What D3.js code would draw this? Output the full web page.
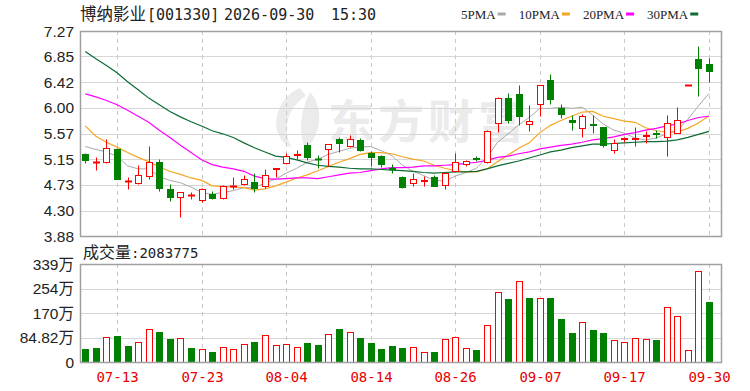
<!DOCTYPE html>
<html>
<head>
<meta charset="utf-8">
<script src="https://cdn.jsdelivr.net/npm/d3@7"></script>
<style>
  body { margin: 0; background: #fff; }
  svg { display: block; }
</style>
</head>
<body>
<svg id="chart" width="750" height="391"></svg>
<script>
// trading days shown (2026)
const dates = ["07-08","07-09","07-10","07-13","07-14","07-15","07-16","07-17","07-20","07-21",
  "07-22","07-23","07-24","07-27","07-28","07-29","07-30","07-31","08-03","08-04",
  "08-05","08-06","08-07","08-10","08-11","08-12","08-13","08-14","08-17","08-18",
  "08-19","08-20","08-21","08-24","08-25","08-26","08-27","08-28","08-31","09-01",
  "09-02","09-03","09-04","09-07","09-08","09-09","09-10","09-11","09-14","09-15",
  "09-16","09-17","09-18","09-21","09-22","09-23","09-24","09-28","09-29","09-30"];

const opens  = [5.24,5.10,5.11,5.32,4.79,4.75,4.87,5.10,4.66,4.53, 4.55,4.48,4.57,4.51,4.70,4.74,4.78,4.70,4.99,5.08,
  5.22,5.38,5.16,5.32,5.48,5.37,5.47,5.25,5.21,5.01, 4.86,4.76,4.79,4.86,4.72,4.96,5.07,5.17,5.11,5.75,
  6.17,6.23,5.73,6.06,6.46,6.00,5.79,5.66,5.74,5.68, 5.30,5.49,5.49,5.54,5.58,5.52,5.58,6.38,6.80,6.72];
const highs  = [5.25,5.18,5.49,5.33,4.86,5.05,5.37,5.15,4.74,4.60, 4.61,4.67,4.63,4.72,4.86,4.89,4.92,4.98,5.00,5.26,
  5.30,5.43,5.22,5.40,5.52,5.55,5.50,5.29,5.22,5.07, 4.87,4.92,4.87,4.89,4.94,5.26,5.13,5.21,5.63,6.18,
  6.24,6.37,6.05,6.37,6.56,6.06,5.88,5.90,5.88,5.69, 5.48,5.52,5.69,5.62,5.63,5.88,6.02,6.38,7.02,6.82];
const lows   = [5.09,4.97,5.09,4.83,4.65,4.74,4.83,4.62,4.46,4.20, 4.49,4.45,4.50,4.50,4.66,4.73,4.60,4.68,4.86,5.07,
  5.16,5.13,5.00,5.03,5.27,5.35,5.29,5.04,5.02,4.93, 4.67,4.70,4.70,4.70,4.65,4.94,5.03,5.12,5.09,5.60,
  5.75,5.72,5.62,5.86,6.06,5.83,5.63,5.51,5.59,5.35, 5.26,5.44,5.37,5.41,5.50,5.21,5.58,6.38,6.20,6.43];
const closes = [5.13,5.10,5.34,4.83,4.79,4.89,5.10,4.67,4.52,4.60, 4.55,4.65,4.51,4.71,4.71,4.82,4.67,4.89,5.00,5.20,
  5.23,5.18,5.15,5.40,5.42,5.48,5.30,5.19,5.07,4.99, 4.69,4.82,4.81,4.71,4.92,5.10,5.12,5.16,5.62,6.17,
  5.79,5.86,5.78,6.37,6.14,5.90,5.77,5.86,5.72,5.39, 5.41,5.50,5.50,5.55,5.56,5.75,5.80,6.38,6.65,6.61];

const ma5  = [5.36,5.31,5.27,5.20,5.04,4.99,4.99,4.86,4.80,4.76, 4.69,4.60,4.57,4.60,4.63,4.68,4.68,4.76,4.82,4.92,
  5.00,5.10,5.15,5.23,5.28,5.33,5.35,5.36,5.29,5.21, 5.05,4.95,4.88,4.80,4.79,4.87,4.93,5.00,5.18,5.43,
  5.57,5.72,5.84,5.99,5.99,6.01,5.99,6.01,5.88,5.73, 5.63,5.58,5.50,5.47,5.50,5.57,5.63,5.81,6.03,6.24];
const ma10 = [5.70,5.53,5.43,5.35,5.26,5.18,5.11,5.02,4.95,4.90, 4.84,4.80,4.71,4.70,4.69,4.68,4.64,4.66,4.71,4.77,
  4.84,4.89,4.96,5.03,5.10,5.16,5.23,5.26,5.26,5.24, 5.19,5.15,5.12,5.05,5.00,4.96,4.94,4.94,4.99,5.11,
  5.22,5.33,5.42,5.59,5.71,5.79,5.86,5.93,5.94,5.86, 5.82,5.78,5.76,5.67,5.62,5.60,5.60,5.66,5.75,5.87];
const ma20 = [6.23,6.18,6.12,6.05,5.96,5.86,5.76,5.63,5.51,5.38, 5.26,5.14,5.06,5.02,4.99,4.95,4.87,4.83,4.82,4.83,
  4.84,4.84,4.83,4.86,4.89,4.92,4.93,4.96,4.99,5.01, 5.01,5.02,5.04,5.04,5.05,5.06,5.08,5.10,5.13,5.18,
  5.20,5.24,5.27,5.32,5.35,5.38,5.40,5.43,5.47,5.49, 5.52,5.56,5.59,5.63,5.66,5.70,5.73,5.79,5.84,5.86];
const ma30 = [6.93,6.81,6.70,6.58,6.43,6.30,6.16,6.05,5.94,5.85, 5.77,5.70,5.62,5.57,5.51,5.42,5.34,5.27,5.20,5.18,
  5.14,5.09,5.05,5.03,5.02,5.00,4.99,4.99,4.98,4.97, 4.96,4.95,4.93,4.92,4.93,4.94,4.94,4.95,4.99,5.04,
  5.08,5.12,5.17,5.22,5.27,5.30,5.34,5.37,5.40,5.40, 5.41,5.42,5.43,5.44,5.44,5.45,5.47,5.51,5.56,5.61];

// volume in 万 shares, and bar colour as drawn
const volumes = [45,49.6,87.7,89,55.4,69,113,104,79.6,83, 49.6,45,34.6,53,45,63.4,69,93.5,58.9,63.4,
  53,64.6,60,98,113,102.7,84,64.6,45,54.2, 49.6,53,33.5,34.6,78.5,87.7,49.6,40.4,127,241,
  217,280,222,221,221,147.7,99.2,138.5,109.6,99.2, 75,69.2,84.2,79.6,75,191.5,158,40.4,315,208.3775];
const volUp = "ggrggrrggrgrgrrrgrrrrggrgrgggggrrgrrrgrrgrgrgggrggrrrrgrrrrg";

const priceTicks = [3.88,4.30,4.73,5.15,5.57,6.00,6.42,6.85,7.27];
const volTicks = [0,84.82,169.65,254.47,339.3];
const volTickLabels = ["0","84.82万","170万","254万","339万"];
const xTickDates = ["07-13","07-23","08-04","08-14","08-26","09-07","09-17","09-30"];
const maNames = ["5PMA","10PMA","20PMA","30PMA"];
const maColors = ["#a9a9a9","#f5a623","#ff00ff","#0d6b35"];

const RED = "#ff0000", GREEN = "#008000";

const svg = d3.select("#chart");
const left = 80, right = 721;
const pTop = 31, pBot = 236, vTop = 264, vBot = 362;

const x = d3.scalePoint().domain(dates).range([85.3, 709]);
const y = d3.scaleLinear().domain([3.88, 7.27]).range([pBot, pTop]);
const yv = d3.scaleLinear().domain([0, 339.3]).range([vBot, vTop]);
const cx = d => Math.round(x(d)) + 0.5;
const py = v => Math.round(y(v)) + 0.5;

// watermark
const wm = svg.append("g").attr("fill", "#ebebeb");
wm.append("path")
  .attr("d", "M300,88 C272,100 268,138 292,148 C282,132 286,108 306,96 Z M310,92 C300,112 298,134 306,150 C322,132 324,108 310,92 Z");
wm.append("text")
  .attr("x", 328).attr("y", 138)
  .attr("font-family", "Noto Sans CJK SC").attr("font-weight", "bold")
  .attr("font-size", 46).attr("letter-spacing", 4)
  .text("东方财富");

// grid - price
const grid = svg.append("g");
grid.selectAll(".hp").data(priceTicks.slice(1, -1)).join("line")
  .attr("x1", left).attr("x2", right)
  .attr("y1", d => py(d)).attr("y2", d => py(d))
  .attr("stroke", "#d6d6d6");
grid.selectAll(".hv").data(volTicks.slice(1, -1)).join("line")
  .attr("x1", left).attr("x2", right)
  .attr("y1", d => Math.round(yv(d)) + 0.5).attr("y2", d => Math.round(yv(d)) + 0.5)
  .attr("stroke", "#d6d6d6");
[[pTop, pBot], [vTop, vBot]].forEach(([t, b]) => {
  grid.append("g").selectAll("line").data(xTickDates).join("line")
    .attr("x1", d => cx(d)).attr("x2", d => cx(d))
    .attr("y1", t).attr("y2", b)
    .attr("stroke", "#c8c8c8").attr("stroke-dasharray", "4,4");
});

// moving averages
const line = d3.line().x((d, i) => x(dates[i])).y(d => y(d));
[ma5, ma10, ma20, ma30].forEach((arr, k) => {
  svg.append("path").datum(arr)
    .attr("d", line).attr("fill", "none")
    .attr("stroke", maColors[k]).attr("stroke-width", k === 0 ? 1 : 1.2);
});

// candles
const candles = svg.append("g");
dates.forEach((d, i) => {
  const o = opens[i], c = closes[i], h = highs[i], l = lows[i];
  const up = c >= o;
  const col = up ? RED : GREEN;
  const X = cx(d);
  const bt = py(Math.max(o, c)), bb = py(Math.min(o, c));
  if (up) {
    candles.append("line").attr("x1", X).attr("x2", X).attr("y1", py(h)).attr("y2", bt).attr("stroke", col);
    candles.append("line").attr("x1", X).attr("x2", X).attr("y1", bb).attr("y2", py(l)).attr("stroke", col);
  } else {
    candles.append("line").attr("x1", X).attr("x2", X).attr("y1", py(h)).attr("y2", py(l)).attr("stroke", col);
  }
  if (bb - bt < 1) {
    candles.append("line").attr("x1", X - 3.5).attr("x2", X + 3.5).attr("y1", bt).attr("y2", bt)
      .attr("stroke", col).attr("stroke-width", 2);
  } else {
    candles.append("rect").attr("x", X - 3).attr("y", bt).attr("width", 6).attr("height", bb - bt)
      .attr("fill", up ? "#fff" : col).attr("stroke", col);
  }
});

// volume bars
svg.append("g").selectAll("rect").data(dates).join("rect")
  .attr("x", d => cx(d) - 3)
  .attr("y", (d, i) => Math.round(yv(volumes[i])) + 0.5)
  .attr("width", 6)
  .attr("height", (d, i) => Math.round(yv(0)) - Math.round(yv(volumes[i])))
  .attr("fill", (d, i) => volUp[i] === "r" ? "#fff" : GREEN)
  .attr("stroke", (d, i) => volUp[i] === "r" ? RED : GREEN);

// frames
[[pTop, pBot], [vTop, vBot]].forEach(([t, b]) => {
  svg.append("rect").attr("x", left + 0.5).attr("y", t + 0.5)
    .attr("width", right - left).attr("height", b - t)
    .attr("fill", "none").attr("stroke", "#a0a0a0").attr("stroke-width", 1.5);
});

// axis labels
const labelFont = "Liberation Sans, Arial, sans-serif";
svg.append("g").selectAll("text").data(priceTicks).join("text")
  .attr("x", 74).attr("y", d => y(d)).attr("dy", "0.36em")
  .attr("text-anchor", "end").attr("font-family", labelFont).attr("font-size", 15.5)
  .attr("fill", "#222").text(d => d.toFixed(2));
svg.append("g").selectAll("text").data(volTicks).join("text")
  .attr("x", 74).attr("y", d => yv(d)).attr("dy", "0.36em")
  .attr("text-anchor", "end").attr("font-family", labelFont + ", Noto Sans CJK SC").attr("font-size", 15.5)
  .attr("fill", "#222").text((d, i) => volTickLabels[i]);
svg.append("g").selectAll("text").data(xTickDates).join("text")
  .attr("x", d => cx(d)).attr("y", 377).attr("dy", "0.36em")
  .attr("text-anchor", "middle").attr("font-family", "DejaVu Sans Mono, monospace").attr("font-size", 14)
  .attr("fill", "#e60000").text(d => d);

// title
const title = svg.append("text").attr("y", 14).attr("dy", "0.36em").attr("fill", "#222");
title.append("tspan").attr("x", 80).attr("font-family", "Noto Sans CJK SC").attr("font-size", 16.5).text("博纳影业");
title.append("tspan").attr("x", 147).attr("font-family", "DejaVu Sans Mono, monospace").attr("font-size", 15).text("[001330]");
title.append("tspan").attr("x", 224).attr("font-family", "DejaVu Sans Mono, monospace").attr("font-size", 15).text("2026-09-30");
title.append("tspan").attr("x", 331).attr("font-family", "DejaVu Sans Mono, monospace").attr("font-size", 15).text("15:30");

// legend
let lx = 461;
maNames.forEach((n, k) => {
  const t = svg.append("text").attr("x", lx).attr("y", 14).attr("dy", "0.36em")
    .attr("font-family", "Liberation Serif, Times New Roman, serif").attr("font-size", 13)
    .attr("fill", "#222").text(n);
  const w = t.node().getComputedTextLength();
  svg.append("rect").attr("x", lx + w + 2).attr("y", 12.5).attr("width", 8).attr("height", 3)
    .attr("fill", maColors[k]);
  lx += w + 23;
});

// volume title
const vt = svg.append("text").attr("x", 83).attr("y", 252).attr("dy", "0.36em").attr("fill", "#222");
vt.append("tspan").attr("font-family", "Noto Sans CJK SC").attr("font-size", 16).text("成交量");
vt.append("tspan").attr("font-family", "DejaVu Sans Mono, monospace").attr("font-size", 14)
  .text(":" + Math.round(volumes[volumes.length - 1] * 10000));
</script>
</body>
</html>
